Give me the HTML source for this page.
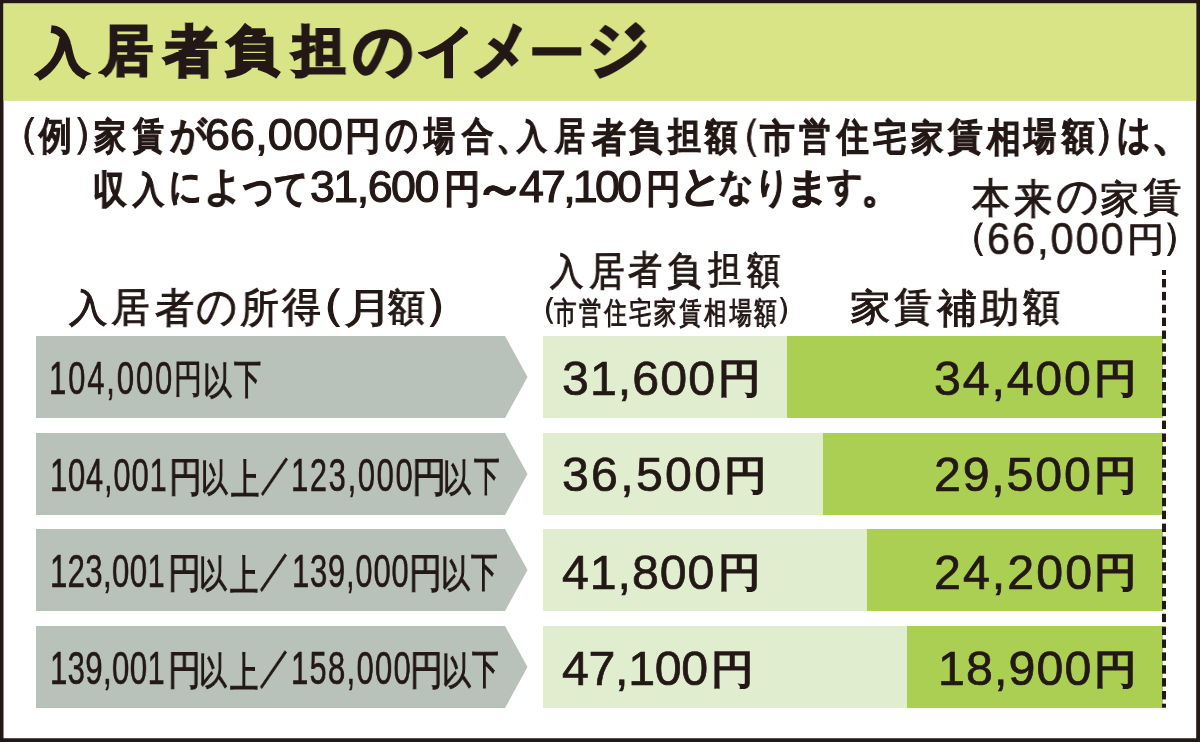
<!DOCTYPE html>
<html lang="ja">
<head>
<meta charset="utf-8">
<style>
html,body{margin:0;padding:0;}
body{width:1200px;height:742px;position:relative;overflow:hidden;background:#fff;font-family:"Liberation Sans",sans-serif;color:#231815;}
.frame,.hdr{position:absolute;left:0;top:0;width:1200px;height:742px;}
.t{position:absolute;white-space:nowrap;line-height:1;will-change:transform;}
.arrow{position:absolute;left:36px;width:492px;height:82px;}
.lg{position:absolute;left:543px;width:620px;height:82px;background:#e0edcf;}
.dg{position:absolute;height:82px;background:#aacf53;}
.dash{position:absolute;left:1162px;top:270px;width:4px;height:438px;}
</style>
</head>
<body>
<svg class="frame" viewBox="0 0 1200 742"><path fill="#231815" fill-rule="evenodd" d="M0 0H1200V742H0Z M3.5 3.5V738.2H1196.2V3.5Z"/></svg>
<svg class="hdr" viewBox="0 0 1200 742"><rect x="3.5" y="3.5" width="1192.7" height="97.3" fill="#d8e485"/></svg>
<svg class="arrow" style="top:336px" viewBox="0 0 492 82"><polygon points="0,0 469,0 491.5,41 469,82 0,82" fill="#b9c2ba"/></svg>
<svg class="arrow" style="top:432.6px" viewBox="0 0 492 82"><polygon points="0,0 469,0 491.5,41 469,82 0,82" fill="#b9c2ba"/></svg>
<svg class="arrow" style="top:529.2px" viewBox="0 0 492 82"><polygon points="0,0 469,0 491.5,41 469,82 0,82" fill="#b9c2ba"/></svg>
<svg class="arrow" style="top:625.8px" viewBox="0 0 492 82"><polygon points="0,0 469,0 491.5,41 469,82 0,82" fill="#b9c2ba"/></svg>
<div class="lg" style="top:336px"></div>
<div class="lg" style="top:432.6px"></div>
<div class="lg" style="top:529.2px"></div>
<div class="lg" style="top:625.8px"></div>
<div class="dg" style="top:336px;left:787px;width:376px"></div>
<div class="dg" style="top:432.6px;left:822.5px;width:340.5px"></div>
<div class="dg" style="top:529.2px;left:866.5px;width:296.5px"></div>
<div class="dg" style="top:625.8px;left:906.5px;width:256.5px"></div>
<svg class="dash" viewBox="0 0 4 438" fill="#231815"><rect x="0" y="0" width="4" height="5"/><rect x="0" y="9.00" width="4" height="8.4"/><rect x="0" y="21.88" width="4" height="8.4"/><rect x="0" y="34.75" width="4" height="8.4"/><rect x="0" y="47.62" width="4" height="8.4"/><rect x="0" y="60.50" width="4" height="8.4"/><rect x="0" y="73.38" width="4" height="8.4"/><rect x="0" y="86.25" width="4" height="8.4"/><rect x="0" y="99.12" width="4" height="8.4"/><rect x="0" y="112.00" width="4" height="8.4"/><rect x="0" y="124.88" width="4" height="8.4"/><rect x="0" y="137.75" width="4" height="8.4"/><rect x="0" y="150.62" width="4" height="8.4"/><rect x="0" y="163.50" width="4" height="8.4"/><rect x="0" y="176.38" width="4" height="8.4"/><rect x="0" y="189.25" width="4" height="8.4"/><rect x="0" y="202.12" width="4" height="8.4"/><rect x="0" y="215.00" width="4" height="8.4"/><rect x="0" y="227.88" width="4" height="8.4"/><rect x="0" y="240.75" width="4" height="8.4"/><rect x="0" y="253.62" width="4" height="8.4"/><rect x="0" y="266.50" width="4" height="8.4"/><rect x="0" y="279.38" width="4" height="8.4"/><rect x="0" y="292.25" width="4" height="8.4"/><rect x="0" y="305.12" width="4" height="8.4"/><rect x="0" y="318.00" width="4" height="8.4"/><rect x="0" y="330.88" width="4" height="8.4"/><rect x="0" y="343.75" width="4" height="8.4"/><rect x="0" y="356.62" width="4" height="8.4"/><rect x="0" y="369.50" width="4" height="8.4"/><rect x="0" y="382.38" width="4" height="8.4"/><rect x="0" y="395.25" width="4" height="8.4"/><rect x="0" y="408.12" width="4" height="8.4"/><rect x="0" y="421.00" width="4" height="8.4"/><rect x="0" y="433.7" width="4" height="4"/></svg>
<div class="t" style="left:37.00px;top:27.00px;font-weight:bold;-webkit-text-stroke:2.6px currentColor;font-size:51.12px;transform:scaleX(1.005);transform-origin:0 0;">入</div>
<div class="t" style="left:100.50px;top:24.00px;font-weight:bold;-webkit-text-stroke:2.6px currentColor;font-size:53.76px;transform:scaleX(0.958);transform-origin:0 0;">居</div>
<div class="t" style="left:163.70px;top:23.50px;font-weight:bold;-webkit-text-stroke:2.6px currentColor;font-size:55.49px;transform:scaleX(0.965);transform-origin:0 0;">者</div>
<div class="t" style="left:226.00px;top:24.00px;font-weight:bold;-webkit-text-stroke:2.6px currentColor;font-size:52.05px;transform:scaleX(1.020);transform-origin:0 0;">負</div>
<div class="t" style="left:293.00px;top:24.00px;font-weight:bold;-webkit-text-stroke:2.6px currentColor;font-size:53.94px;transform:scaleX(0.968);transform-origin:0 0;">担</div>
<div class="t" style="left:353.00px;top:19.00px;font-weight:bold;-webkit-text-stroke:2.6px currentColor;font-size:61.31px;transform:scaleX(0.975);transform-origin:0 0;">の</div>
<div class="t" style="left:418.00px;top:24.00px;font-weight:bold;-webkit-text-stroke:2.6px currentColor;font-size:53.78px;transform:scaleX(1.063);transform-origin:0 0;">イ</div>
<div class="t" style="left:472.00px;top:18.00px;font-weight:bold;-webkit-text-stroke:2.6px currentColor;font-size:64.63px;transform:scaleX(0.894);transform-origin:0 0;">メ</div>
<div class="t" style="left:530.00px;top:33.00px;font-weight:bold;-webkit-text-stroke:2.6px currentColor;font-size:40.86px;transform:scaleX(1.307);transform-origin:0 0;">ー</div>
<div class="t" style="left:587.00px;top:17.00px;font-weight:bold;-webkit-text-stroke:2.6px currentColor;font-size:62.96px;transform:scaleX(0.974);transform-origin:0 0;">ジ</div>
<div class="t" style="left:-4.30px;top:111.30px;-webkit-text-stroke:0.8px currentColor;font-size:43.33px;transform:scaleX(1.033);transform-origin:0 0;">（</div>
<div class="t" style="left:39.30px;top:117.30px;font-weight:bold;-webkit-text-stroke:0.8px currentColor;font-size:38.80px;transform:scaleX(0.840);transform-origin:0 0;">例</div>
<div class="t" style="left:71.00px;top:111.30px;-webkit-text-stroke:0.8px currentColor;font-size:43.33px;transform:scaleX(1.033);transform-origin:0 0;">）</div>
<div class="t" style="left:93.70px;top:117.70px;font-weight:bold;-webkit-text-stroke:0.8px currentColor;font-size:37.29px;transform:scaleX(0.861);transform-origin:0 0;">家</div>
<div class="t" style="left:133.30px;top:118.00px;font-weight:bold;-webkit-text-stroke:0.8px currentColor;font-size:36.50px;transform:scaleX(0.839);transform-origin:0 0;">賃</div>
<div class="t" style="left:170.00px;top:116.00px;font-weight:bold;-webkit-text-stroke:0.8px currentColor;font-size:38.66px;transform:scaleX(0.929);transform-origin:0 0;">が</div>
<div class="t" style="left:345.00px;top:116.50px;font-weight:bold;-webkit-text-stroke:0.8px currentColor;font-size:38.11px;transform:scaleX(0.937);transform-origin:0 0;">円</div>
<div class="t" style="left:385.00px;top:113.00px;font-weight:bold;-webkit-text-stroke:0.8px currentColor;font-size:42.97px;transform:scaleX(0.763);transform-origin:0 0;">の</div>
<div class="t" style="left:423.70px;top:117.30px;font-weight:bold;-webkit-text-stroke:0.8px currentColor;font-size:38.68px;transform:scaleX(0.790);transform-origin:0 0;">場</div>
<div class="t" style="left:461.70px;top:117.70px;font-weight:bold;-webkit-text-stroke:0.8px currentColor;font-size:37.51px;transform:scaleX(0.828);transform-origin:0 0;">合</div>
<div class="t" style="left:495.50px;top:115.50px;font-weight:bold;-webkit-text-stroke:0.8px currentColor;font-size:39.43px;transform:scaleX(0.882);transform-origin:0 0;">、</div>
<div class="t" style="left:516.50px;top:118.50px;font-weight:bold;-webkit-text-stroke:0.8px currentColor;font-size:34.17px;transform:scaleX(0.872);transform-origin:0 0;">入</div>
<div class="t" style="left:555.00px;top:118.00px;font-weight:bold;-webkit-text-stroke:0.8px currentColor;font-size:37.60px;transform:scaleX(0.790);transform-origin:0 0;">居</div>
<div class="t" style="left:592.00px;top:118.60px;font-weight:bold;-webkit-text-stroke:0.8px currentColor;font-size:38.82px;transform:scaleX(0.876);transform-origin:0 0;">者</div>
<div class="t" style="left:629.00px;top:118.60px;font-weight:bold;-webkit-text-stroke:0.8px currentColor;font-size:36.71px;transform:scaleX(0.895);transform-origin:0 0;">負</div>
<div class="t" style="left:668.00px;top:117.60px;font-weight:bold;-webkit-text-stroke:0.8px currentColor;font-size:37.72px;transform:scaleX(0.868);transform-origin:0 0;">担</div>
<div class="t" style="left:705.30px;top:119.60px;font-weight:bold;-webkit-text-stroke:0.8px currentColor;font-size:35.75px;transform:scaleX(0.899);transform-origin:0 0;">額</div>
<div class="t" style="left:719.50px;top:112.60px;-webkit-text-stroke:0.8px currentColor;font-size:43.54px;transform:scaleX(0.960);transform-origin:0 0;">（</div>
<div class="t" style="left:760.00px;top:119.60px;font-weight:bold;-webkit-text-stroke:0.8px currentColor;font-size:37.72px;transform:scaleX(0.917);transform-origin:0 0;">市</div>
<div class="t" style="left:798.80px;top:118.60px;font-weight:bold;-webkit-text-stroke:0.8px currentColor;font-size:36.71px;transform:scaleX(0.851);transform-origin:0 0;">営</div>
<div class="t" style="left:837.00px;top:117.60px;font-weight:bold;-webkit-text-stroke:0.8px currentColor;font-size:38.80px;transform:scaleX(0.812);transform-origin:0 0;">住</div>
<div class="t" style="left:873.40px;top:119.60px;font-weight:bold;-webkit-text-stroke:0.8px currentColor;font-size:36.71px;transform:scaleX(0.912);transform-origin:0 0;">宅</div>
<div class="t" style="left:911.40px;top:120.60px;font-weight:bold;-webkit-text-stroke:0.8px currentColor;font-size:35.72px;transform:scaleX(0.900);transform-origin:0 0;">家</div>
<div class="t" style="left:948.40px;top:118.60px;font-weight:bold;-webkit-text-stroke:0.8px currentColor;font-size:36.71px;transform:scaleX(0.942);transform-origin:0 0;">賃</div>
<div class="t" style="left:987.00px;top:118.60px;font-weight:bold;-webkit-text-stroke:0.8px currentColor;font-size:38.82px;transform:scaleX(0.870);transform-origin:0 0;">相</div>
<div class="t" style="left:1024.30px;top:117.60px;font-weight:bold;-webkit-text-stroke:0.8px currentColor;font-size:37.72px;transform:scaleX(0.845);transform-origin:0 0;">場</div>
<div class="t" style="left:1062.00px;top:119.60px;font-weight:bold;-webkit-text-stroke:0.8px currentColor;font-size:35.75px;transform:scaleX(0.899);transform-origin:0 0;">額</div>
<div class="t" style="left:1092.00px;top:111.60px;-webkit-text-stroke:0.8px currentColor;font-size:42.98px;transform:scaleX(1.070);transform-origin:0 0;">）</div>
<div class="t" style="left:1117.30px;top:113.60px;font-weight:bold;-webkit-text-stroke:0.8px currentColor;font-size:40.60px;transform:scaleX(0.808);transform-origin:0 0;">は</div>
<div class="t" style="left:1151.00px;top:107.80px;font-weight:bold;-webkit-text-stroke:0.8px currentColor;font-size:48.59px;transform:scaleX(0.898);transform-origin:0 0;">、</div>
<div class="t" style="left:205.00px;top:111.50px;-webkit-text-stroke:1.1px currentColor;font-size:44.80px;letter-spacing:0.20px;">66,000</div>
<div class="t" style="left:92.80px;top:170.60px;font-weight:bold;-webkit-text-stroke:0.8px currentColor;font-size:38.90px;transform:scaleX(0.859);transform-origin:0 0;">収</div>
<div class="t" style="left:132.70px;top:171.80px;font-weight:bold;-webkit-text-stroke:0.8px currentColor;font-size:36.16px;transform:scaleX(0.863);transform-origin:0 0;">入</div>
<div class="t" style="left:169.30px;top:166.00px;font-weight:bold;-webkit-text-stroke:0.8px currentColor;font-size:40.09px;transform:scaleX(0.810);transform-origin:0 0;">に</div>
<div class="t" style="left:203.50px;top:165.60px;font-weight:bold;-webkit-text-stroke:0.8px currentColor;font-size:40.47px;transform:scaleX(0.941);transform-origin:0 0;">よ</div>
<div class="t" style="left:238.60px;top:163.30px;font-weight:bold;-webkit-text-stroke:0.8px currentColor;font-size:45.74px;transform:scaleX(0.803);transform-origin:0 0;">っ</div>
<div class="t" style="left:273.70px;top:169.00px;font-weight:bold;-webkit-text-stroke:0.8px currentColor;font-size:39.50px;transform:scaleX(0.844);transform-origin:0 0;">て</div>
<div class="t" style="left:443.70px;top:168.80px;font-weight:bold;-webkit-text-stroke:0.8px currentColor;font-size:39.28px;transform:scaleX(0.935);transform-origin:0 0;">円</div>
<div class="t" style="left:473.80px;top:163.80px;font-weight:bold;-webkit-text-stroke:0.8px currentColor;font-size:48.00px;transform:scaleX(1.080);transform-origin:0 0;">～</div>
<div class="t" style="left:645.50px;top:168.50px;font-weight:bold;-webkit-text-stroke:0.8px currentColor;font-size:39.18px;transform:scaleX(0.890);transform-origin:0 0;">円</div>
<div class="t" style="left:679.30px;top:165.20px;font-weight:bold;-webkit-text-stroke:0.8px currentColor;font-size:41.50px;transform:scaleX(1.027);transform-origin:0 0;">と</div>
<div class="t" style="left:718.50px;top:168.20px;font-weight:bold;-webkit-text-stroke:0.8px currentColor;font-size:37.41px;transform:scaleX(0.917);transform-origin:0 0;">な</div>
<div class="t" style="left:753.50px;top:166.60px;font-weight:bold;-webkit-text-stroke:0.8px currentColor;font-size:41.00px;transform:scaleX(0.872);transform-origin:0 0;">り</div>
<div class="t" style="left:785.00px;top:168.20px;font-weight:bold;-webkit-text-stroke:0.8px currentColor;font-size:39.70px;transform:scaleX(1.129);transform-origin:0 0;">ま</div>
<div class="t" style="left:826.50px;top:168.20px;font-weight:bold;-webkit-text-stroke:0.8px currentColor;font-size:37.93px;transform:scaleX(0.927);transform-origin:0 0;">す</div>
<div class="t" style="left:861.40px;top:164.80px;font-weight:bold;-webkit-text-stroke:0.8px currentColor;font-size:44.97px;transform:scaleX(0.916);transform-origin:0 0;">。</div>
<div class="t" style="left:310.40px;top:163.50px;-webkit-text-stroke:1.1px currentColor;font-size:44.80px;letter-spacing:-1.54px;">31,600</div>
<div class="t" style="left:519.00px;top:163.50px;-webkit-text-stroke:1.1px currentColor;font-size:44.80px;letter-spacing:-2.80px;">47,100</div>
<div class="t" style="left:972.10px;top:178.25px;-webkit-text-stroke:1px currentColor;font-size:41.14px;transform:scaleX(0.922);transform-origin:0 0;">本</div>
<div class="t" style="left:1014.20px;top:178.70px;-webkit-text-stroke:1px currentColor;font-size:40.80px;transform:scaleX(0.928);transform-origin:0 0;">来</div>
<div class="t" style="left:1056.10px;top:175.40px;-webkit-text-stroke:1px currentColor;font-size:43.56px;transform:scaleX(0.953);transform-origin:0 0;">の</div>
<div class="t" style="left:1099.80px;top:180.70px;-webkit-text-stroke:1px currentColor;font-size:37.61px;transform:scaleX(1.032);transform-origin:0 0;">家</div>
<div class="t" style="left:1142.90px;top:178.25px;-webkit-text-stroke:1px currentColor;font-size:38.97px;transform:scaleX(0.988);transform-origin:0 0;">賃</div>
<div class="t" style="left:950.00px;top:216.50px;-webkit-text-stroke:1px currentColor;font-size:38.00px;">（</div>
<div class="t" style="left:987.00px;top:216.00px;-webkit-text-stroke:0.6px currentColor;font-size:45.00px;letter-spacing:2.17px;transform:scaleX(0.920);transform-origin:0 0;">66,000</div>
<div class="t" style="left:1126.50px;top:222.00px;-webkit-text-stroke:1px currentColor;font-size:34.00px;transform:scaleX(1.100);transform-origin:0 0;">円</div>
<div class="t" style="left:1162.00px;top:216.50px;-webkit-text-stroke:1px currentColor;font-size:38.00px;">）</div>
<div class="t" style="left:68.75px;top:289.10px;-webkit-text-stroke:1px currentColor;font-size:38.23px;transform:scaleX(1.014);transform-origin:0 0;">入</div>
<div class="t" style="left:111.10px;top:287.10px;-webkit-text-stroke:1px currentColor;font-size:40.04px;transform:scaleX(0.963);transform-origin:0 0;">居</div>
<div class="t" style="left:154.60px;top:287.80px;-webkit-text-stroke:1px currentColor;font-size:40.91px;transform:scaleX(0.956);transform-origin:0 0;">者</div>
<div class="t" style="left:196.10px;top:282.60px;-webkit-text-stroke:1px currentColor;font-size:46.20px;transform:scaleX(0.881);transform-origin:0 0;">の</div>
<div class="t" style="left:240.00px;top:288.25px;-webkit-text-stroke:1px currentColor;font-size:40.75px;transform:scaleX(0.951);transform-origin:0 0;">所</div>
<div class="t" style="left:282.10px;top:286.80px;-webkit-text-stroke:1px currentColor;font-size:41.16px;transform:scaleX(0.950);transform-origin:0 0;">得</div>
<div class="t" style="left:293.30px;top:281.80px;-webkit-text-stroke:1px currentColor;font-size:43.83px;transform:scaleX(1.236);transform-origin:0 0;">（</div>
<div class="t" style="left:344.00px;top:287.50px;-webkit-text-stroke:1px currentColor;font-size:41.10px;transform:scaleX(1.189);transform-origin:0 0;">月</div>
<div class="t" style="left:388.30px;top:288.80px;-webkit-text-stroke:1px currentColor;font-size:37.74px;transform:scaleX(0.977);transform-origin:0 0;">額</div>
<div class="t" style="left:423.00px;top:281.80px;-webkit-text-stroke:1px currentColor;font-size:43.83px;transform:scaleX(1.141);transform-origin:0 0;">）</div>
<div class="t" style="left:550.00px;top:252.90px;-webkit-text-stroke:1px currentColor;font-size:37.00px;transform:scaleX(0.910);transform-origin:0 0;">入</div>
<div class="t" style="left:589.00px;top:251.90px;-webkit-text-stroke:1px currentColor;font-size:39.83px;transform:scaleX(0.889);transform-origin:0 0;">居</div>
<div class="t" style="left:628.30px;top:250.25px;-webkit-text-stroke:1px currentColor;font-size:39.45px;transform:scaleX(0.877);transform-origin:0 0;">者</div>
<div class="t" style="left:667.30px;top:251.70px;-webkit-text-stroke:1px currentColor;font-size:38.68px;transform:scaleX(0.869);transform-origin:0 0;">負</div>
<div class="t" style="left:707.90px;top:250.25px;-webkit-text-stroke:1px currentColor;font-size:38.03px;transform:scaleX(0.877);transform-origin:0 0;">担</div>
<div class="t" style="left:747.00px;top:251.70px;-webkit-text-stroke:1px currentColor;font-size:37.44px;transform:scaleX(0.904);transform-origin:0 0;">額</div>
<div class="t" style="left:850.25px;top:289.25px;-webkit-text-stroke:1px currentColor;font-size:37.38px;transform:scaleX(1.101);transform-origin:0 0;">家</div>
<div class="t" style="left:894.20px;top:286.80px;-webkit-text-stroke:1px currentColor;font-size:39.12px;transform:scaleX(0.979);transform-origin:0 0;">賃</div>
<div class="t" style="left:937.10px;top:288.80px;-webkit-text-stroke:1px currentColor;font-size:39.83px;transform:scaleX(1.009);transform-origin:0 0;">補</div>
<div class="t" style="left:980.00px;top:288.25px;-webkit-text-stroke:1px currentColor;font-size:40.75px;transform:scaleX(0.958);transform-origin:0 0;">助</div>
<div class="t" style="left:1023.30px;top:288.80px;-webkit-text-stroke:1px currentColor;font-size:37.74px;transform:scaleX(0.977);transform-origin:0 0;">額</div>
<div class="t" style="left:527.00px;top:293.00px;-webkit-text-stroke:1px currentColor;font-size:30.00px;">（</div>
<div class="t" style="left:553.60px;top:298.00px;-webkit-text-stroke:1px currentColor;font-size:30.00px;letter-spacing:3.37px;transform:scaleX(0.750);transform-origin:0 0;">市営住宅家賃相場額</div>
<div class="t" style="left:775.80px;top:293.00px;-webkit-text-stroke:1px currentColor;font-size:30.00px;">）</div>
<div class="t" style="left:49.00px;top:355.00px;-webkit-text-stroke:0.6px currentColor;font-size:46.80px;letter-spacing:2.93px;transform:scaleX(0.660);transform-origin:0 0;">104,000</div>
<div class="t" style="left:174.25px;top:360.00px;-webkit-text-stroke:1.0px currentColor;font-size:38.87px;transform:scaleX(0.722);transform-origin:0 0;">円</div>
<div class="t" style="left:203.40px;top:363.00px;-webkit-text-stroke:1.0px currentColor;font-size:37.64px;transform:scaleX(0.762);transform-origin:0 0;">以</div>
<div class="t" style="left:234.20px;top:359.00px;-webkit-text-stroke:1.0px currentColor;font-size:41.17px;transform:scaleX(0.663);transform-origin:0 0;">下</div>
<div class="t" style="left:50.00px;top:452.00px;-webkit-text-stroke:0.6px currentColor;font-size:46.80px;letter-spacing:1.26px;transform:scaleX(0.660);transform-origin:0 0;">104,001</div>
<div class="t" style="left:169.00px;top:456.50px;-webkit-text-stroke:1.0px currentColor;font-size:40.98px;transform:scaleX(0.804);transform-origin:0 0;">円</div>
<div class="t" style="left:201.00px;top:459.50px;-webkit-text-stroke:1.0px currentColor;font-size:37.54px;transform:scaleX(0.707);transform-origin:0 0;">以</div>
<div class="t" style="left:231.00px;top:458.50px;-webkit-text-stroke:1.0px currentColor;font-size:42.26px;transform:scaleX(0.673);transform-origin:0 0;">上</div>
<div class="t" style="left:260.30px;top:452.00px;-webkit-text-stroke:1.0px currentColor;font-size:42.77px;transform:scaleX(0.749);transform-origin:0 0;">／</div>
<div class="t" style="left:290.50px;top:452.00px;-webkit-text-stroke:0.6px currentColor;font-size:46.80px;letter-spacing:2.53px;transform:scaleX(0.660);transform-origin:0 0;">123,000</div>
<div class="t" style="left:412.00px;top:456.50px;-webkit-text-stroke:1.0px currentColor;font-size:40.98px;transform:scaleX(0.837);transform-origin:0 0;">円</div>
<div class="t" style="left:443.00px;top:459.50px;-webkit-text-stroke:1.0px currentColor;font-size:37.54px;transform:scaleX(0.736);transform-origin:0 0;">以</div>
<div class="t" style="left:474.00px;top:455.50px;-webkit-text-stroke:1.0px currentColor;font-size:41.06px;transform:scaleX(0.620);transform-origin:0 0;">下</div>
<div class="t" style="left:50.00px;top:548.00px;-webkit-text-stroke:0.6px currentColor;font-size:46.80px;letter-spacing:0.76px;transform:scaleX(0.660);transform-origin:0 0;">123,001</div>
<div class="t" style="left:168.00px;top:552.50px;-webkit-text-stroke:1.0px currentColor;font-size:40.98px;transform:scaleX(0.804);transform-origin:0 0;">円</div>
<div class="t" style="left:199.00px;top:555.50px;-webkit-text-stroke:1.0px currentColor;font-size:37.54px;transform:scaleX(0.736);transform-origin:0 0;">以</div>
<div class="t" style="left:230.00px;top:554.50px;-webkit-text-stroke:1.0px currentColor;font-size:42.26px;transform:scaleX(0.673);transform-origin:0 0;">上</div>
<div class="t" style="left:259.00px;top:548.00px;-webkit-text-stroke:1.0px currentColor;font-size:42.77px;transform:scaleX(0.749);transform-origin:0 0;">／</div>
<div class="t" style="left:292.00px;top:548.00px;-webkit-text-stroke:0.6px currentColor;font-size:46.80px;letter-spacing:1.26px;transform:scaleX(0.660);transform-origin:0 0;">139,000</div>
<div class="t" style="left:409.00px;top:552.50px;-webkit-text-stroke:1.0px currentColor;font-size:40.98px;transform:scaleX(0.804);transform-origin:0 0;">円</div>
<div class="t" style="left:441.00px;top:555.50px;-webkit-text-stroke:1.0px currentColor;font-size:37.54px;transform:scaleX(0.766);transform-origin:0 0;">以</div>
<div class="t" style="left:471.00px;top:551.50px;-webkit-text-stroke:1.0px currentColor;font-size:41.06px;transform:scaleX(0.651);transform-origin:0 0;">下</div>
<div class="t" style="left:50.00px;top:645.00px;-webkit-text-stroke:0.6px currentColor;font-size:46.80px;letter-spacing:0.76px;transform:scaleX(0.660);transform-origin:0 0;">139,001</div>
<div class="t" style="left:168.00px;top:649.50px;-webkit-text-stroke:1.0px currentColor;font-size:40.98px;transform:scaleX(0.804);transform-origin:0 0;">円</div>
<div class="t" style="left:199.00px;top:652.50px;-webkit-text-stroke:1.0px currentColor;font-size:37.54px;transform:scaleX(0.736);transform-origin:0 0;">以</div>
<div class="t" style="left:230.00px;top:651.50px;-webkit-text-stroke:1.0px currentColor;font-size:42.26px;transform:scaleX(0.673);transform-origin:0 0;">上</div>
<div class="t" style="left:259.00px;top:645.00px;-webkit-text-stroke:1.0px currentColor;font-size:42.77px;transform:scaleX(0.749);transform-origin:0 0;">／</div>
<div class="t" style="left:291.00px;top:645.00px;-webkit-text-stroke:0.6px currentColor;font-size:46.80px;letter-spacing:2.02px;transform:scaleX(0.660);transform-origin:0 0;">158,000</div>
<div class="t" style="left:410.00px;top:649.50px;-webkit-text-stroke:1.0px currentColor;font-size:40.98px;transform:scaleX(0.804);transform-origin:0 0;">円</div>
<div class="t" style="left:442.00px;top:652.50px;-webkit-text-stroke:1.0px currentColor;font-size:37.54px;transform:scaleX(0.766);transform-origin:0 0;">以</div>
<div class="t" style="left:472.00px;top:648.50px;-webkit-text-stroke:1.0px currentColor;font-size:41.06px;transform:scaleX(0.651);transform-origin:0 0;">下</div>
<div class="t" style="left:562.40px;top:353.50px;-webkit-text-stroke:0.7px currentColor;font-size:48.30px;letter-spacing:1.06px;">31,600</div>
<div class="t" style="left:718.00px;top:359.00px;-webkit-text-stroke:1.8px currentColor;font-size:39.50px;transform:scaleX(1.070);transform-origin:0 0;">円</div>
<div class="t" style="left:561.90px;top:450.00px;-webkit-text-stroke:0.7px currentColor;font-size:48.30px;letter-spacing:2.26px;">36,500</div>
<div class="t" style="left:723.50px;top:455.50px;-webkit-text-stroke:1.8px currentColor;font-size:39.50px;transform:scaleX(1.070);transform-origin:0 0;">円</div>
<div class="t" style="left:561.80px;top:547.60px;-webkit-text-stroke:0.7px currentColor;font-size:48.30px;letter-spacing:0.92px;">41,800</div>
<div class="t" style="left:717.50px;top:553.10px;-webkit-text-stroke:1.8px currentColor;font-size:39.50px;transform:scaleX(1.070);transform-origin:0 0;">円</div>
<div class="t" style="left:561.80px;top:644.10px;-webkit-text-stroke:0.7px currentColor;font-size:48.30px;letter-spacing:-0.32px;">47,100</div>
<div class="t" style="left:711.10px;top:649.60px;-webkit-text-stroke:1.8px currentColor;font-size:39.50px;transform:scaleX(1.070);transform-origin:0 0;">円</div>
<div class="t" style="left:934.30px;top:353.50px;-webkit-text-stroke:0.7px currentColor;font-size:48.30px;letter-spacing:1.84px;">34,400</div>
<div class="t" style="left:1094.20px;top:359.00px;-webkit-text-stroke:1.8px currentColor;font-size:39.50px;transform:scaleX(1.070);transform-origin:0 0;">円</div>
<div class="t" style="left:933.80px;top:450.00px;-webkit-text-stroke:0.7px currentColor;font-size:48.30px;letter-spacing:1.82px;">29,500</div>
<div class="t" style="left:1094.00px;top:455.50px;-webkit-text-stroke:1.8px currentColor;font-size:39.50px;transform:scaleX(1.070);transform-origin:0 0;">円</div>
<div class="t" style="left:933.80px;top:547.60px;-webkit-text-stroke:0.7px currentColor;font-size:48.30px;letter-spacing:2.06px;">24,200</div>
<div class="t" style="left:1094.40px;top:553.10px;-webkit-text-stroke:1.8px currentColor;font-size:39.50px;transform:scaleX(1.070);transform-origin:0 0;">円</div>
<div class="t" style="left:938.00px;top:644.10px;-webkit-text-stroke:0.7px currentColor;font-size:48.30px;letter-spacing:1.14px;">18,900</div>
<div class="t" style="left:1094.40px;top:649.60px;-webkit-text-stroke:1.8px currentColor;font-size:39.50px;transform:scaleX(1.070);transform-origin:0 0;">円</div>
</body>
</html>
